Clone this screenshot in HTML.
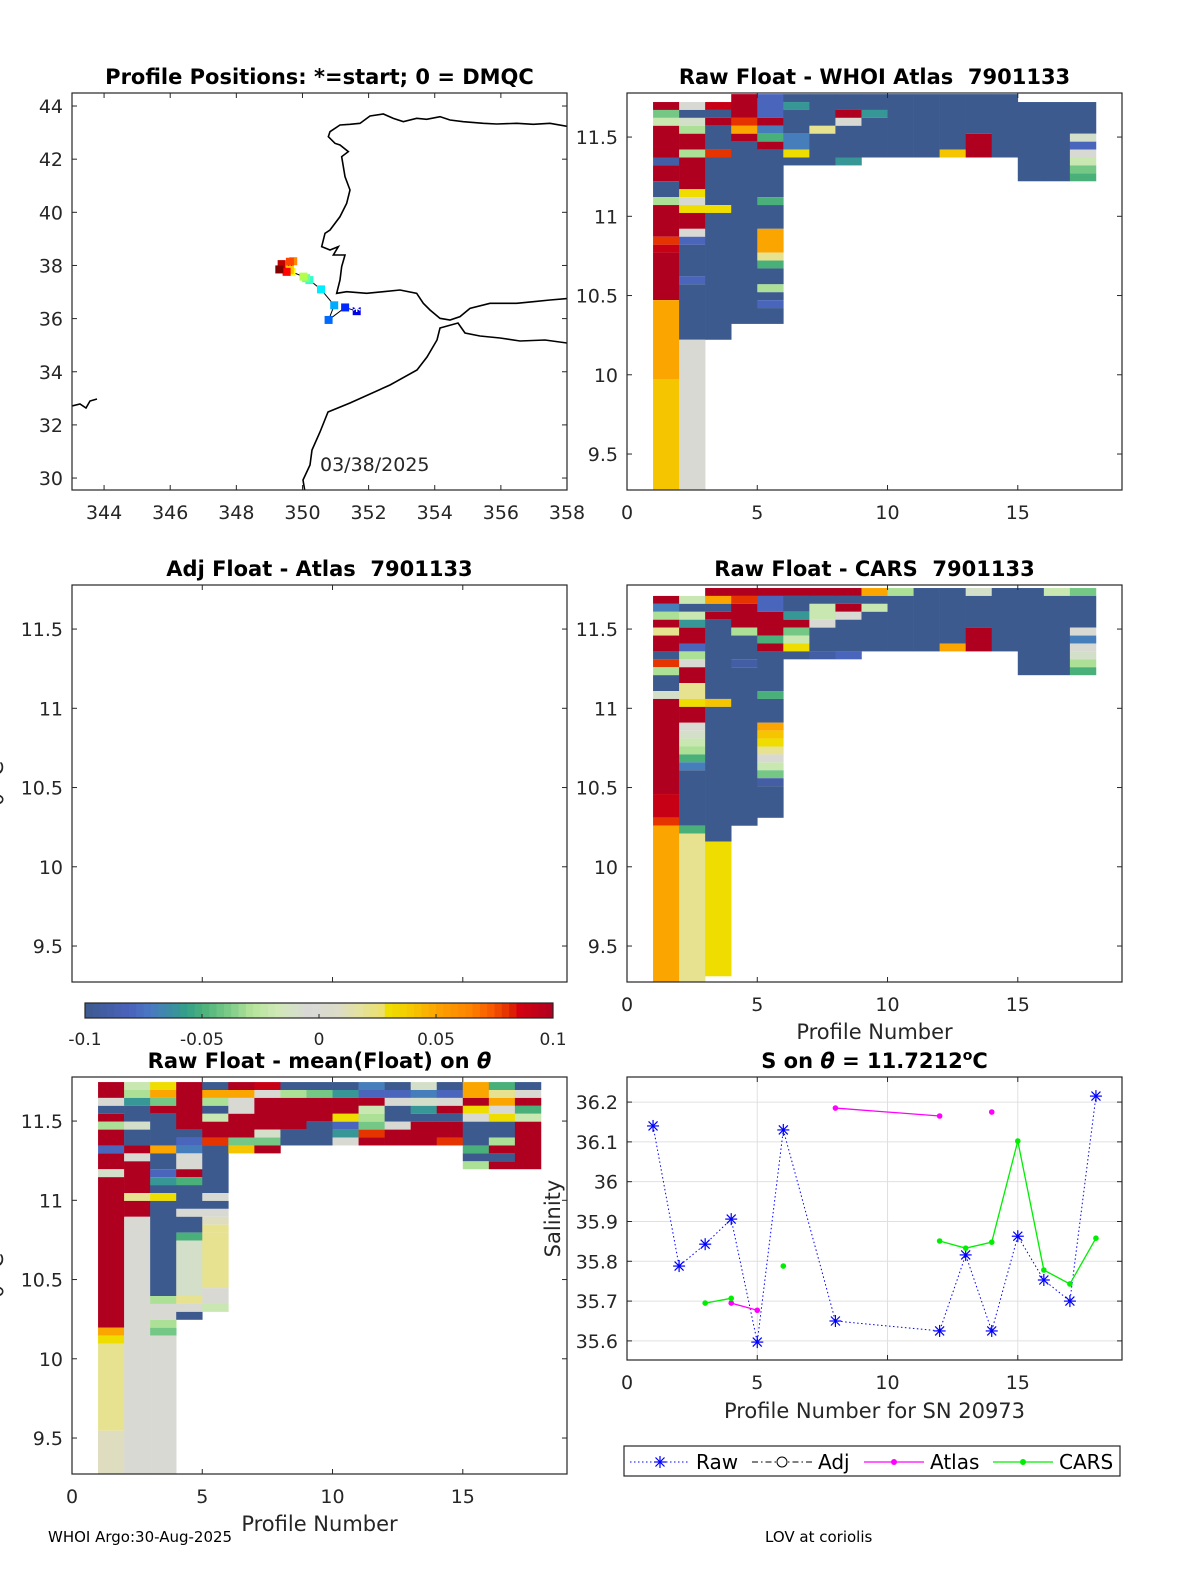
<!DOCTYPE html>
<html><head><meta charset="utf-8">
<style>
html,body{margin:0;padding:0;background:#fff;}
svg{display:block;font-family:"DejaVu Sans","Liberation Sans",sans-serif;}
.tl{font-size:19px;fill:#262626;}
.ti{font-size:21px;font-weight:bold;fill:#000;white-space:pre;}
</style></head>
<body>
<svg id="fig" width="1200" height="1575" viewBox="0 0 1200 1575" xmlns="http://www.w3.org/2000/svg">
<g id="layer"></g>
</svg>
<script>
// ---------- data ----------
const trackLon = [351.64,351.29,350.79,350.96,350.56,350.21,350.11,350.03,349.67,349.62,349.72,349.62,349.52,349.37,349.30];
const trackLat = [36.28,36.42,35.95,36.50,37.10,37.45,37.52,37.58,37.76,37.83,38.16,38.14,37.76,38.05,37.85];
const mapXTicks = [344,346,348,350,352,354,356,358];
const mapYTicks = [30,32,34,36,38,40,42,44];
const thetaTicks = [9.5,10,10.5,11,11.5];
const profTicks = [0,5,10,15];
const salTicks = [35.6,35.7,35.8,35.9,36,36.1,36.2];
const cbTicks = [-0.1,-0.05,0,0.05,0.1];
const cbLabels = ["-0.1","-0.05","0","0.05","0.1"];
// heatmap columns (profiles 1..17): [rowStart,rowEnd,anomaly*100]
const p2Cols = [
 [[1,2,10],[2,3,-4],[3,4,-2],[4,8,10],[8,9,-9],[9,11,10],[11,13,-10],[13,14,-3],[14,18,10],[18,19,8],[19,20,9],[20,26,10],[26,36,5],[36,50,4]],
 [[1,2,0],[2,3,-10],[3,4,-1],[4,5,-3],[5,7,10],[7,8,-3],[8,12,10],[12,13,3],[13,14,0],[14,15,3],[15,17,10],[17,18,0],[18,19,-8],[19,23,-10],[23,24,-8],[24,31,-10],[31,50,0]],
 [[1,2,9],[2,3,-10],[3,4,10],[4,7,-10],[7,8,8],[8,14,-10],[14,15,3],[15,31,-10]],
 [[0,3,10],[3,4,8],[4,5,5],[5,6,10],[6,29,-10]],
 [[0,3,-8],[3,4,10],[4,5,-7],[5,6,-5],[6,7,10],[7,13,-10],[13,14,-5],[14,17,-10],[17,20,5],[20,21,2],[21,22,-5],[22,24,-10],[24,25,-3],[25,26,-10],[26,27,-8],[27,29,-10]],
 [[0,1,-10],[1,2,-6],[2,5,-10],[5,7,-7],[7,8,3],[8,9,-10]],
 [[0,4,-10],[4,5,2],[5,9,-10]],
 [[0,2,-10],[2,3,10],[3,4,0],[4,8,-10],[8,9,-6]],
 [[0,2,-10],[2,3,-6],[3,8,-10]],
 [[0,8,-10]],
 [[0,8,-10]],
 [[0,7,-10],[7,8,4]],
 [[0,5,-10],[5,8,10]],
 [[0,8,-10]],
 [[1,11,-10]],
 [[1,11,-10]],
 [[1,5,-10],[5,6,-1],[6,7,-8],[7,8,0],[8,9,-2],[9,10,-4],[10,11,-5]]
];
const p4Cols = [
 [[1,2,10],[2,3,-7],[3,4,-3],[4,5,10],[5,6,2],[6,8,10],[8,9,-10],[9,10,8],[10,11,-3],[11,13,-10],[13,14,-1],[14,26,10],[26,29,9],[29,30,8],[30,50,5]],
 [[1,2,-2],[2,3,-10],[3,4,-2],[4,5,-6],[5,7,10],[7,8,-8],[8,9,-3],[9,10,0],[10,12,10],[12,13,2],[13,14,2],[14,15,3],[15,17,10],[17,18,0],[18,19,-1],[19,20,-2],[20,21,-3],[21,22,-5],[22,23,-7],[23,30,-10],[30,31,-5],[31,50,2]],
 [[0,1,10],[1,2,5],[2,3,-10],[3,4,10],[4,14,-10],[14,15,4],[15,32,-10],[32,49,3]],
 [[0,1,10],[1,2,8],[2,5,10],[5,6,-3],[6,9,-10],[9,10,-9],[10,30,-10]],
 [[0,1,10],[1,3,-8],[3,6,10],[6,7,-5],[7,8,10],[8,13,-10],[13,14,-5],[14,17,-10],[17,18,5],[18,19,4],[19,20,3],[20,21,2],[21,22,0],[22,23,-2],[23,24,-4],[24,25,-9],[25,29,-10]],
 [[0,1,10],[1,3,-10],[3,4,-6],[4,5,10],[5,6,-4],[6,7,-2],[7,8,3],[8,9,-10]],
 [[0,1,10],[1,2,-10],[2,4,-2],[4,5,0],[5,8,-10],[8,9,-9]],
 [[0,1,10],[1,2,-10],[2,3,10],[3,4,0],[4,8,-10],[8,9,-8]],
 [[0,1,5],[1,2,-10],[2,3,-2],[3,8,-10]],
 [[0,1,-3],[1,8,-10]],
 [[0,8,-10]],
 [[0,7,-10],[7,8,5]],
 [[0,1,-1],[1,5,-10],[5,8,10]],
 [[0,8,-10]],
 [[0,11,-10]],
 [[0,1,-2],[1,11,-10]],
 [[0,1,-4],[1,5,-10],[5,6,0],[6,7,-7],[7,8,0],[8,9,-1],[9,10,-3],[10,11,-5]]
];
const p5Cols = [
 [[0,2,10],[2,3,0],[3,4,-10],[4,5,10],[5,6,-3],[6,8,10],[8,9,-8],[9,11,10],[11,12,-1],[12,31,10],[31,32,5],[32,33,3],[33,44,2],[44,50,1]],
 [[0,1,-2],[1,2,-3],[2,3,-6],[3,5,-10],[5,6,-1],[6,8,-10],[8,9,10],[9,10,0],[10,14,10],[14,15,2],[15,17,10],[17,50,0]],
 [[0,1,3],[1,2,5],[2,3,-4],[3,4,10],[4,8,-10],[8,9,5],[9,11,-10],[11,12,-8],[12,13,-6],[13,14,-10],[14,15,3],[15,27,-10],[27,28,-3],[28,30,0],[30,31,-3],[31,32,-4],[32,50,0]],
 [[0,6,10],[6,7,-10],[7,8,-8],[8,9,-7],[9,11,0],[11,12,10],[12,13,-5],[13,16,-10],[16,17,0],[17,19,-10],[19,20,-5],[20,27,-1],[27,28,2],[28,29,0],[29,30,-10]],
 [[0,1,-10],[1,2,5],[2,3,-3],[3,4,-10],[4,5,-2],[5,7,10],[7,8,8],[8,14,-10],[14,15,0],[15,16,-10],[16,17,0],[17,18,1],[18,19,2],[19,26,2],[26,28,0],[28,29,-2]],
 [[0,1,10],[1,2,5],[2,4,0],[4,7,10],[7,8,-4],[8,9,4]],
 [[0,1,9],[1,2,0],[2,6,10],[6,7,-1],[7,8,-4],[8,9,10]],
 [[0,1,-10],[1,2,-3],[2,6,10],[6,8,-10]],
 [[0,1,-10],[1,2,-4],[2,5,10],[5,8,-10]],
 [[0,1,-10],[1,2,-6],[2,4,10],[4,5,3],[5,6,-8],[6,7,-6],[7,8,0]],
 [[0,1,-7],[1,2,-8],[2,3,10],[3,4,-2],[4,5,-3],[5,6,-4],[6,7,8],[7,8,10]],
 [[0,1,-10],[1,2,-8],[2,3,0],[3,5,-10],[5,6,0],[6,8,10]],
 [[0,1,-1],[1,2,-7],[2,3,-1],[3,4,-6],[4,5,-10],[5,8,10]],
 [[0,1,-10],[1,2,-8],[2,3,0],[3,4,10],[4,5,-10],[5,7,10],[7,8,8]],
 [[0,2,5],[2,3,10],[3,4,3],[4,5,0],[5,8,-10],[8,9,-5],[9,10,-10],[10,11,-3]],
 [[0,1,-5],[1,2,2],[2,3,5],[3,4,0],[4,5,3],[5,7,-10],[7,8,-3],[8,9,10],[9,10,-10],[10,11,10]],
 [[0,1,-10],[1,2,0],[2,3,10],[3,4,-5],[4,5,-2],[5,11,10]]
];
const profiles = [1,2,3,4,5,6,7,8,9,10,11,12,13,14,15,16,17,18];
const salRaw   = [36.14,35.788,35.843,35.906,35.597,36.13,NaN,35.65,NaN,NaN,NaN,35.625,35.816,35.625,35.863,35.753,35.70,36.215];
const salAtlas = [NaN,NaN,NaN,35.695,35.677,NaN,NaN,36.185,NaN,NaN,NaN,36.165,NaN,36.175,NaN,NaN,NaN,NaN];
const atlasSeg = [0,0,0,1,1,0,0,2,0,0,0,2,0,3,0,0,0,0];
const salCars  = [NaN,NaN,35.695,35.707,NaN,35.788,NaN,NaN,NaN,NaN,NaN,35.851,35.833,35.848,36.102,35.778,35.743,35.858];
const carsSeg  = [0,0,1,1,0,2,0,0,0,0,0,3,3,3,3,3,3,3];

// ---------- helpers ----------
const NS="http://www.w3.org/2000/svg";
const layer=document.getElementById('layer');
function mk(tag,attrs,parent){const e=document.createElementNS(NS,tag);for(const k in attrs)e.setAttribute(k,attrs[k]);(parent||layer).appendChild(e);return e;}
function txt(s,x,y,cls,anchor,parent){const t=mk('text',{x:x,y:y,class:cls,'text-anchor':anchor||'middle'},parent);t.textContent=s;return t;}
const cmapStops=[[0,'#3d5a8e'],[0.095,'#4a62bb'],[0.138,'#4a78c3'],[0.188,'#3a90a0'],[0.216,'#33a088'],[0.251,'#4ab07a'],[0.308,'#7ccb88'],[0.357,'#b5e49a'],[0.414,'#d0e8b8'],[0.48,'#d8d8d8'],[0.54,'#dcdcc8'],[0.59,'#e4e29a'],[0.633,'#ece070'],[0.644,'#eee000'],[0.697,'#f5c800'],[0.754,'#fba200'],[0.824,'#fd8200'],[0.867,'#f85a00'],[0.91,'#e02800'],[0.925,'#d40010'],[1,'#b00020']];
function hex2(c){return [parseInt(c.substr(1,2),16),parseInt(c.substr(3,2),16),parseInt(c.substr(5,2),16)];}
function cmap(t){t=Math.max(0,Math.min(1,t));for(let i=1;i<cmapStops.length;i++){if(t<=cmapStops[i][0]){const a=cmapStops[i-1],b=cmapStops[i];const f=(t-a[0])/(b[0]-a[0]||1);const A=hex2(a[1]),B=hex2(b[1]);return 'rgb('+A.map((v,j)=>Math.round(v+(B[j]-v)*f)).join(',')+')';}}return cmapStops[cmapStops.length-1][1];}
function jet(t){const r=Math.min(1,Math.max(0,1.5-Math.abs(4*t-3))),g=Math.min(1,Math.max(0,1.5-Math.abs(4*t-2))),b=Math.min(1,Math.max(0,1.5-Math.abs(4*t-1)));return 'rgb('+[r,g,b].map(v=>Math.round(v*255)).join(',')+')';}

function axesBox(name){
  const g=mk('g',{});
  
  
  return g;
}
function frame(g,x,y,w,h){mk('rect',{x:x,y:y,width:w,height:h,fill:'none',stroke:'#262626','stroke-width':1.2},g);}

function thetaPanel(px,py,titleHTML,cols,th0,xlabel,name,ylabelLeft,showX){
  const W=495,H=397,xmax=19,thTop=11.778,thBot=9.273;
  const X=v=>px+v/xmax*W;
  const Y=t=>py+(thTop-t)/(thTop-thBot)*H;
  const g=axesBox(name);
  const cg=mk('g',{},g);
  
  
  if(cols){
    cols.forEach((col,ci)=>{
      col.forEach(seg=>{
        const t1=th0-0.05*seg[0],t2=th0-0.05*seg[1];
        const r=mk('rect',{x:X(ci+1),y:Y(t1),width:X(ci+2)-X(ci+1)+0.3,height:Math.min(Y(t2),py+H)-Y(t1),fill:cmap((seg[2]+10)/20)},cg);
        
        
      });
    });
  }
  frame(g,px,py,W,H);
  profTicks.forEach(v=>{const x=X(v);mk('line',{x1:x,y1:py+H,x2:x,y2:py+H-5,stroke:'#262626'},g);mk('line',{x1:x,y1:py,x2:x,y2:py+5,stroke:'#262626'},g);
    if(showX){const t=txt(String(v),x,py+H+29,'tl','middle',g);}});
  thetaTicks.forEach(v=>{const y=Y(v);mk('line',{x1:px,y1:y,x2:px+5,y2:y,stroke:'#262626'},g);mk('line',{x1:px+W,y1:y,x2:px+W-5,y2:y,stroke:'#262626'},g);
    const t=txt(String(v),px-9,y+7,'tl','end',g);});
  const tt=mk('text',{x:px+W/2,y:py-9,class:'ti','text-anchor':'middle'},g);tt.innerHTML=titleHTML;
  
  if(xlabel){const xl=txt(xlabel,px+W/2,py+H+57,'tl','middle',g);xl.setAttribute('style','font-size:21px');}
  if(ylabelLeft){const yl=mk('text',{x:0,y:0,transform:'translate(3,'+(py+H/2)+') rotate(-90)',class:'tl','text-anchor':'middle'},g);yl.setAttribute('style','font-size:21px');yl.textContent='θ °C';}
  return g;
}

// ---------- Panel 1: map ----------
(function(){
  const px=72,py=93,W=495,H=397,lon0=343.03,lon1=358.0,lat0=29.55,lat1=44.49;
  const X=v=>px+(v-lon0)/(lon1-lon0)*W, Y=v=>py+(lat1-v)/(lat1-lat0)*H;
  const g=axesBox('map-panel');
  const clip=mk('clipPath',{id:'mapclip'},g);mk('rect',{x:px,y:py,width:W,height:H},clip);
  const cg=mk('g',{'clip-path':'url(#mapclip)'},g);
  
  
  const iberia=[[958,110],[900,100],[850,103],[800,100],[740,102],[700,100],[640,95],[600,90],[570,80],[530,88],[500,85],[460,95],[430,85],[400,72],[360,78],[330,100],[300,103],[270,105],[240,125],[235,140],[255,160],[270,165],[295,185],[275,200],[280,230],[285,260],[300,300],[290,340],[270,380],[240,420],[225,430],[215,470],[240,480],[265,470],[250,495],[285,495],[275,530],[270,570],[260,610],[290,605],[350,610],[400,605],[450,600],[500,610],[520,640],[540,660],[570,685],[600,690],[630,680],[660,655],[720,640],[800,640],[850,635],[900,630],[958,625]];
  mk('polyline',{points:iberia.map(p=>(250+p[0]/3)+','+(90+p[1]/3)).join(' '),fill:'none',stroke:'#000','stroke-width':1.6},cg);
  const africa=[[567,343],[545,340],[520,341],[500,338],[480,336],[465,333],[458,323],[440,328],[437,340],[427,357],[417,370],[390,385],[350,403],[328,412],[320,432],[312,450],[310,465],[303,480],[305,492]];
  mk('polyline',{points:africa.map(p=>p[0]+','+p[1]).join(' '),fill:'none',stroke:'#000','stroke-width':1.6},cg);
  mk('polyline',{points:'72,406 80,404 86,408 90,401 97,399',fill:'none',stroke:'#000','stroke-width':1.6},cg);
  const pts=trackLon.map((v,i)=>X(v)+','+Y(trackLat[i])).join(' ');
  const tr=mk('polyline',{points:pts,fill:'none',stroke:'#000','stroke-width':1},cg);
  
  
  trackLon.forEach((v,i)=>{
    const s=mk('rect',{x:X(v)-4,y:Y(trackLat[i])-4,width:8,height:8,fill:jet(0.1+0.9*i/(trackLon.length-1))},cg);
    
    
  });
  const st=mk('text',{x:X(trackLon[0]),y:Y(trackLat[0])+5,'text-anchor':'middle',style:'font-size:16px;fill:#fff;font-weight:bold'},cg);st.textContent='*';
  frame(g,px,py,W,H);
  mapXTicks.forEach(v=>{const x=X(v);mk('line',{x1:x,y1:py+H,x2:x,y2:py+H-5,stroke:'#262626'},g);mk('line',{x1:x,y1:py,x2:x,y2:py+5,stroke:'#262626'},g);
    const t=txt(String(v),x,py+H+29,'tl','middle',g);});
  mapYTicks.forEach(v=>{const y=Y(v);mk('line',{x1:px,y1:y,x2:px+5,y2:y,stroke:'#262626'},g);mk('line',{x1:px+W,y1:y,x2:px+W-5,y2:y,stroke:'#262626'},g);
    const t=txt(String(v),px-9,y+7,'tl','end',g);});
  const tt=txt('Profile Positions: *=start; 0 = DMQC',px+W/2,py-9,'ti','middle',g);
  const d=txt('03/38/2025',320,471,'tl','start',g);
})();

thetaPanel(627,93,'Raw Float - WHOI Atlas  7901133',p2Cols,11.771,null,'raw-vs-atlas-panel',false,true);
thetaPanel(72,585,'Adj Float - Atlas  7901133',null,11.77,null,'adj-vs-atlas-panel',true,false);
thetaPanel(627,585,'Raw Float - CARS  7901133',p4Cols,11.759,'Profile Number','raw-vs-cars-panel',false,true);
thetaPanel(72,1077,'Raw Float - mean(Float) on <tspan font-style="italic">θ</tspan>',p5Cols,11.746,'Profile Number','raw-minus-mean-panel',true,true);

// ---------- colorbar ----------
(function(){
  const x0=85,x1=553,y0=1003,h=15;
  const g=mk('g',{});
  
  
  const n=64;
  for(let i=0;i<n;i++){mk('rect',{x:x0+(x1-x0)*i/n,y:y0,width:(x1-x0)/n+0.4,height:h,fill:cmap((i+0.5)/n)},g);}
  mk('rect',{x:x0,y:y0,width:x1-x0,height:h,fill:'none',stroke:'#262626','stroke-width':1.2},g);
  cbTicks.forEach((v,i)=>{const x=x0+(v+0.1)/0.2*(x1-x0);mk('line',{x1:x,y1:y0+h,x2:x,y2:y0+h-4,stroke:'#262626'},g);
    const t=txt(cbLabels[i],x,y0+h+27,'tl','middle',g);t.setAttribute('style','font-size:17px');});
})();

// ---------- Panel 6: salinity ----------
(function(){
  const px=627,py=1077,W=495,H=283,xmax=19,sTop=36.263,sBot=35.552;
  const X=v=>px+v/xmax*W, Y=v=>py+(sTop-v)/(sTop-sBot)*H;
  const g=axesBox('salinity-panel');
  profTicks.forEach(v=>{if(v>0)mk('line',{x1:X(v),y1:py,x2:X(v),y2:py+H,stroke:'#e0e0e0'},g);});
  salTicks.forEach(v=>mk('line',{x1:px,y1:Y(v),x2:px+W,y2:Y(v),stroke:'#e0e0e0'},g));
  frame(g,px,py,W,H);
  profTicks.forEach(v=>{const x=X(v);mk('line',{x1:x,y1:py+H,x2:x,y2:py+H-5,stroke:'#262626'},g);mk('line',{x1:x,y1:py,x2:x,y2:py+5,stroke:'#262626'},g);
    const t=txt(String(v),x,py+H+29,'tl','middle',g);});
  salTicks.forEach(v=>{const y=Y(v);mk('line',{x1:px,y1:y,x2:px+5,y2:y,stroke:'#262626'},g);mk('line',{x1:px+W,y1:y,x2:px+W-5,y2:y,stroke:'#262626'},g);
    const t=txt(String(v),px-9,y+7,'tl','end',g);});
  const rawPts=[];salRaw.forEach((v,i)=>{if(!isNaN(v))rawPts.push(X(profiles[i])+','+Y(v));});
  const rl=mk('polyline',{points:rawPts.join(' '),fill:'none',stroke:'#0000ff','stroke-width':1,'stroke-dasharray':'1.5,2.5'},g);
  
  
  salRaw.forEach((v,i)=>{if(isNaN(v))return;const x=X(profiles[i]),y=Y(v);const m=mk('g',{stroke:'#0000ff','stroke-width':1.2},g);
    
    
    mk('line',{x1:x-6,y1:y,x2:x+6,y2:y},m);mk('line',{x1:x,y1:y-6,x2:x,y2:y+6},m);mk('line',{x1:x-4.5,y1:y-4.5,x2:x+4.5,y2:y+4.5},m);mk('line',{x1:x-4.5,y1:y+4.5,x2:x+4.5,y2:y-4.5},m);});
  [[salAtlas,atlasSeg,'#ff00ff','atlas'],[salCars,carsSeg,'#00ee00','cars']].forEach(([arr,sg,col,nm])=>{
    const groups={};
    arr.forEach((v,i)=>{if(isNaN(v))return;(groups[sg[i]]=groups[sg[i]]||[]).push(X(profiles[i])+','+Y(v));});
    Object.keys(groups).forEach(k=>{if(groups[k].length<2)return;const l=mk('polyline',{points:groups[k].join(' '),fill:'none',stroke:col,'stroke-width':1.3},g);
      
      });
    arr.forEach((v,i)=>{if(isNaN(v))return;const c=mk('circle',{cx:X(profiles[i]),cy:Y(v),r:2.8,fill:col},g);
      
      });
  });
  const tt=mk('text',{x:px+W/2,y:py-9,class:'ti','text-anchor':'middle'},g);
  tt.innerHTML='S on <tspan font-style="italic">θ</tspan> = 11.7212<tspan baseline-shift="super" font-size="14">o</tspan>C';
  
  const xl=txt('Profile Number for SN 20973',px+W/2,py+H+58,'tl','middle',g);xl.setAttribute('style','font-size:21px');
  const yl=mk('text',{x:0,y:0,transform:'translate(560,'+(py+H/2)+') rotate(-90)',class:'tl','text-anchor':'middle',style:'font-size:21px'},g);yl.textContent='Salinity';
  
})();

// ---------- legend ----------
(function(){
  const g=mk('g',{});
  
  
  mk('rect',{x:624,y:1446,width:496,height:30,fill:'#fff',stroke:'#262626','stroke-width':1.2},g);
  const cy=1462;
  mk('line',{x1:630,y1:cy,x2:690,y2:cy,stroke:'#0000ff','stroke-dasharray':'1.5,2.5'},g);
  const m=mk('g',{stroke:'#0000ff','stroke-width':1.2},g);
  mk('line',{x1:654,y1:cy,x2:666,y2:cy},m);mk('line',{x1:660,y1:cy-6,x2:660,y2:cy+6},m);mk('line',{x1:655.5,y1:cy-4.5,x2:664.5,y2:cy+4.5},m);mk('line',{x1:655.5,y1:cy+4.5,x2:664.5,y2:cy-4.5},m);
  let t=txt('Raw',696,cy+7,'tl','start',g);t.setAttribute('style','font-size:20px;fill:#000');
  mk('line',{x1:752,y1:cy,x2:812,y2:cy,stroke:'#000','stroke-dasharray':'6,3,1.5,3'},g);
  mk('circle',{cx:782,cy:cy,r:5,fill:'#fff',stroke:'#000'},g);
  t=txt('Adj',818,cy+7,'tl','start',g);t.setAttribute('style','font-size:20px;fill:#000');
  mk('line',{x1:864,y1:cy,x2:924,y2:cy,stroke:'#ff00ff','stroke-width':1.3},g);mk('circle',{cx:894,cy:cy,r:3,fill:'#ff00ff'},g);
  t=txt('Atlas',930,cy+7,'tl','start',g);t.setAttribute('style','font-size:20px;fill:#000');
  mk('line',{x1:993,y1:cy,x2:1053,y2:cy,stroke:'#00ee00','stroke-width':1.3},g);mk('circle',{cx:1023,cy:cy,r:3,fill:'#00ee00'},g);
  t=txt('CARS',1059,cy+7,'tl','start',g);t.setAttribute('style','font-size:20px;fill:#000');
})();

let f=txt('WHOI Argo:30-Aug-2025',48,1542,'tl','start');f.setAttribute('style','font-size:15px;fill:#000');


f=txt('LOV at coriolis',765,1542,'tl','start');f.setAttribute('style','font-size:15px;fill:#000');


</script>
</body></html>
